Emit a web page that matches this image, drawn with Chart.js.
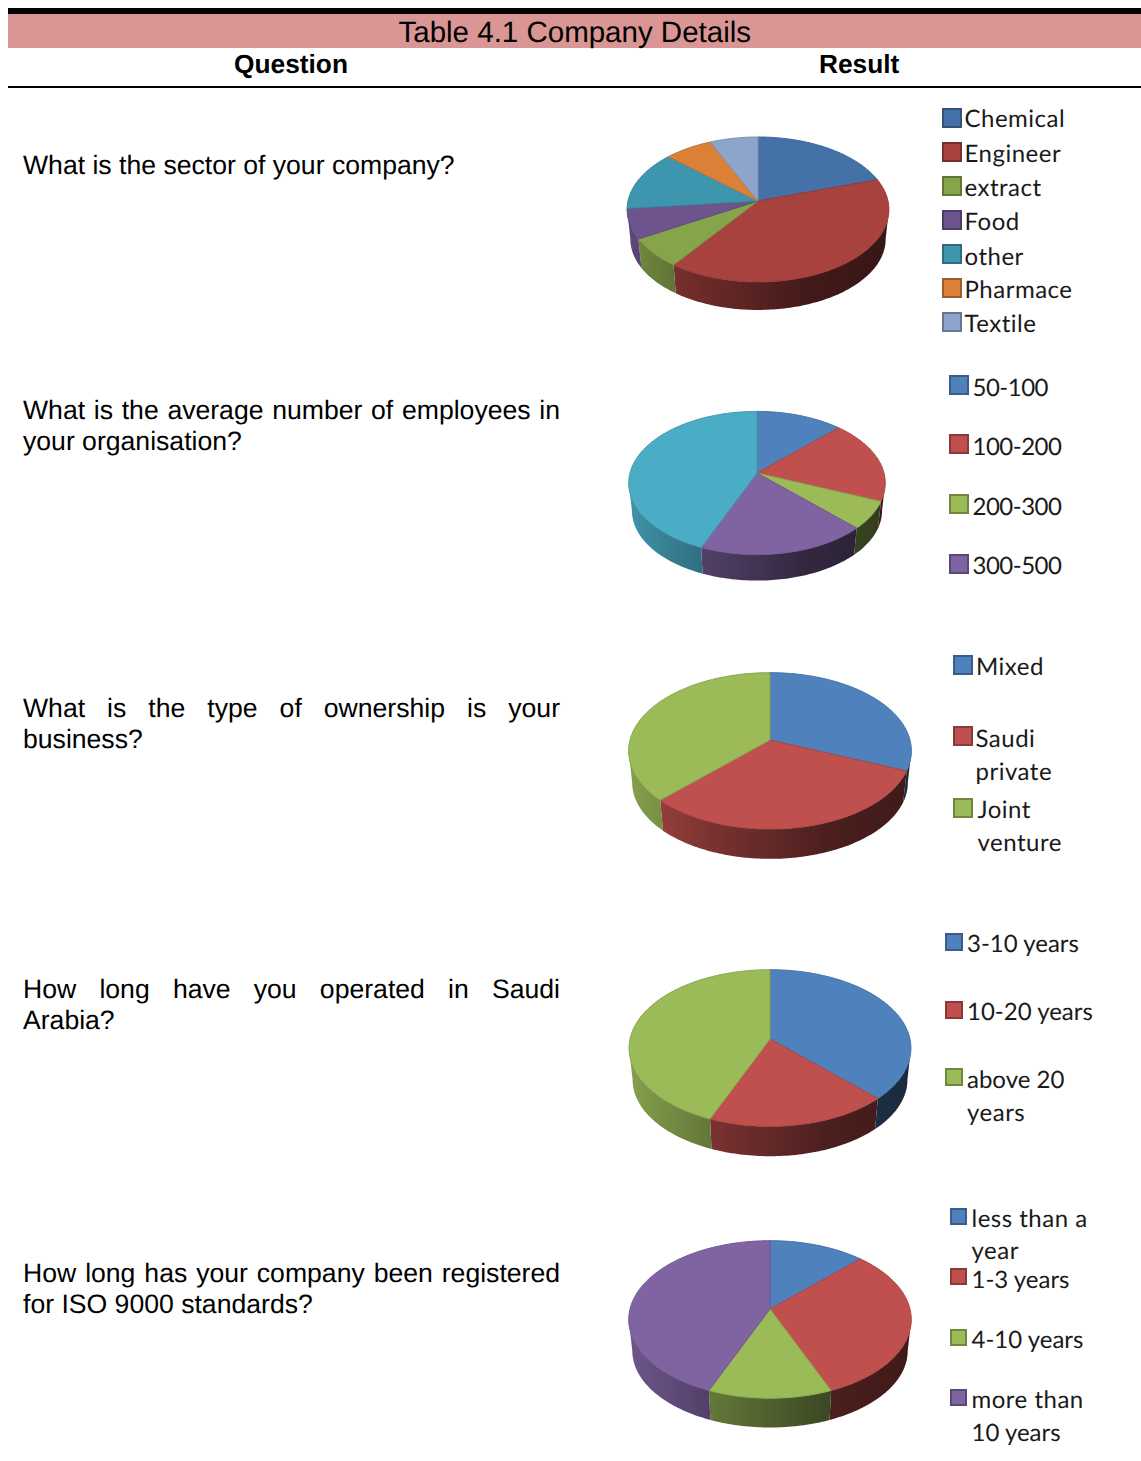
<!DOCTYPE html>
<html>
<head>
    <title>Table 4.1 Company Details</title>
    <script src="https://cdn.jsdelivr.net/npm/chart.js"></script>
    <style>
        html, body { margin: 0; padding: 0; background: #fff; }
        #page { position: relative; width: 1141px; height: 1461px; overflow: hidden; text-rendering: geometricPrecision; }
        #page canvas, .txt, .swatch, .bar { position: absolute; }
        .txt { white-space: nowrap; color: #000; }
        .q { font-family: "Liberation Sans", Arial, sans-serif; }
        .lg { font-family: Lato, sans-serif; color: #1a1a1a; }
        .swatch { box-sizing: border-box; border-style: solid; border-width: 2px; }
    </style>
</head>
<body>
<div id="page"></div>
<script>
    // answers per question
    const sectorLabels = ['Chemical', 'Engineer', 'extract', 'Food', 'other', 'Pharmace', 'Textile'];
    const sectorValues = [3, 6, 1, 1, 2, 1, 1];

    const employeeLabels = ['50-100', '100-200', '200-300', '300-500'];
    const employeeValues = [2, 3, 1, 3, 7];

    const ownershipLabels = ['Mixed', ['Saudi', 'private'], ['Joint', 'venture']];
    const ownershipValues = [5, 5, 6];

    const operatedLabels = ['3-10 years', '10-20 years', ['above 20', 'years']];
    const operatedValues = [6, 3, 7];

    const isoLabels = [['less than a', 'year'], '1-3 years', '4-10 years', ['more than', '10 years']];
    const isoValues = [2, 5, 2, 7];

    const sectorColors = ['#4472A8', '#A8423F', '#86A44A', '#6E548D', '#3D96AE', '#DA8137', '#8EA5CB'];
    const officeColors = ['#4F81BD', '#C0504D', '#9BBB59', '#8064A2', '#4BACC6'];

    const questions = [
        { lines: ['What is the sector of your company?'], baseline: 175 },
        { lines: ['What is the average number of employees in', 'your organisation?'], baseline: 420 },
        { lines: ['What is the type of ownership is your', 'business?'], baseline: 718 },
        { lines: ['How long have you operated in Saudi', 'Arabia?'], baseline: 999 },
        { lines: ['How long has your company been registered', 'for ISO 9000 standards?'], baseline: 1283 }
    ];

    // apex = centre of the pie on screen, a/b = radii, p = perspective, depth = wall height
    const pies = [
        { labels: sectorLabels, values: sectorValues, colors: sectorColors,
          geom: { apexX: 758, apexY: 201, a: 130, b: 71.5, p: -0.117, depth: 30 },
          legend: { size: 20, swatchX: [942, 942, 942, 942, 942, 942, 942], swatchY: [108, 142, 176, 210, 244, 278, 312],
                    textX: [964.5, 964.5, 964.5, 964.5, 964.5, 964.5, 964.5], baseY: [[128], [163], [197], [231], [266], [299], [333]] } },
        { labels: employeeLabels, values: employeeValues, colors: officeColors,
          geom: { apexX: 756.7, apexY: 473.3, a: 127, b: 70.2, p: -0.14, depth: 28 },
          legend: { size: 20, swatchX: [949, 949, 949, 949], swatchY: [375, 434, 494, 554],
                    textX: [972.5, 972.5, 972.5, 972.5], baseY: [[397], [456], [516], [575]] } },
        { labels: ownershipLabels, values: ownershipValues, colors: officeColors,
          geom: { apexX: 770, apexY: 740, a: 140, b: 76.7, p: -0.139, depth: 32 },
          legend: { size: 20, swatchX: [953, 953, 953], swatchY: [655, 726, 798],
                    textX: [976, 975.5, 977.5], baseY: [[676], [748, 781], [819, 852]] } },
        { labels: operatedLabels, values: operatedValues, colors: officeColors,
          geom: { apexX: 770, apexY: 1039.3, a: 140, b: 77.3, p: -0.1155, depth: 32 },
          legend: { size: 18, swatchX: [945, 945, 945], swatchY: [933, 1001, 1068],
                    textX: [967, 967, 967], baseY: [[953], [1021], [1089, 1122]] } },
        { labels: isoLabels, values: isoValues, colors: officeColors,
          geom: { apexX: 770, apexY: 1309, a: 140, b: 77.4, p: -0.133, depth: 31.5 },
          legend: { size: 17, swatchX: [950, 950, 950, 950], swatchY: [1208, 1268, 1329, 1389],
                    textX: [971.5, 971.5, 971.5, 971.5], baseY: [[1228, 1260], [1289], [1349], [1409, 1442]] } }
    ];

    const page = document.getElementById('page');

    // font ascent/descent, used to put text on a given baseline
    const METRICS = { q: [0.905, 0.212], lg: [0.987, 0.213] };

    function addText(text, x, baseline, size, cls, extra) {
        const el = document.createElement('div');
        const lineH = Math.round(size * 1.3);
        const m = METRICS[cls];
        el.className = 'txt ' + cls;
        el.textContent = text;
        el.style.left = x + 'px';
        el.style.top = (baseline - ((lineH - (m[0] + m[1]) * size) / 2 + m[0] * size)) + 'px';
        el.style.fontSize = size + 'px';
        el.style.lineHeight = lineH + 'px';
        Object.assign(el.style, extra || {});
        page.appendChild(el);
        return el;
    }

    function addBar(x, y, w, h, color) {
        const el = document.createElement('div');
        el.className = 'bar';
        el.style.cssText = 'left:' + x + 'px;top:' + y + 'px;width:' + w + 'px;height:' + h + 'px;background:' + color;
        page.appendChild(el);
    }

    function shade(hex, k) {
        const n = parseInt(hex.slice(1), 16);
        const c = [n >> 16, (n >> 8) & 255, n & 255].map(function(v) { return Math.round(v * k); });
        return 'rgb(' + c.join(',') + ')';
    }

    // Lato digits run wide and its letters a bit narrow
    function legendSpacing(line) {
        if (/^[0-9-]+$/.test(line)) return '-0.5px';
        if (/^[A-Za-z ]+$/.test(line)) return '0.5px';
        return '0';
    }

    // table head
    addBar(8, 8, 1133, 6, '#000');
    addBar(8, 14, 1133, 34, '#D99694');
    addBar(8, 86, 1133, 2, '#000');
    addText('Table 4.1 Company Details', 398.5, 43.4, 29.5, 'q');
    addText('Question', 234, 73, 26.3, 'q', { fontWeight: 'bold' });
    addText('Result', 819, 73, 26.3, 'q', { fontWeight: 'bold' });

    // question column, every line but the last one is justified
    questions.forEach(function(q) {
        q.lines.forEach(function(line, i) {
            const extra = {};
            if (i < q.lines.length - 1) {
                extra.width = '537px';
                extra.whiteSpace = 'normal';
                extra.textAlign = 'justify';
                extra.textAlignLast = 'justify';
            }
            addText(line, 23, q.baseline + i * 31, 26.6, 'q', extra);
        });
    });

    const WALL_TAPER = 0.975;
    const WALL_LIGHT = [[0, 0.85], [0.3, 0.63], [0.7, 0.39], [1, 0.33]];

    function rimPoint(theta, cx, cy, g, wall) {
        const k = wall ? WALL_TAPER : 1;
        const w = 1 + g.p * Math.sin(theta);
        return {
            x: cx + g.a * k * Math.cos(theta) / w,
            y: cy + g.b * k * Math.sin(theta) / w + (wall ? g.depth : 0)
        };
    }

    function traceRim(ctx, from, to, cx, cy, g, wall) {
        const steps = Math.max(2, Math.ceil(Math.abs(to - from) / 0.02));
        for (let i = 0; i <= steps; i++) {
            const t = from + (to - from) * i / steps;
            const pt = rimPoint(t, cx, cy, g, wall);
            ctx.lineTo(pt.x, pt.y);
        }
    }

    // draws the arcs that the pie controller laid out as a tilted disc with a front wall
    const tiltedPie = {
        id: 'tiltedPie',
        beforeDatasetsDraw(chart, args, g) {
            const ctx = chart.ctx;
            const arcs = chart.getDatasetMeta(0).data;
            const edge = Math.asin(-g.p);

            arcs.forEach(function(arc) {
                const from = Math.max(arc.startAngle, edge);
                const to = Math.min(arc.endAngle, Math.PI - edge);
                if (to <= from) return;
                const grad = ctx.createLinearGradient(arc.x - g.a, 0, arc.x + g.a, 0);
                WALL_LIGHT.forEach(function(s) { grad.addColorStop(s[0], shade(arc.options.backgroundColor, s[1])); });
                ctx.beginPath();
                traceRim(ctx, from, to, arc.x, arc.y, g, false);
                traceRim(ctx, to, from, arc.x, arc.y, g, true);
                ctx.closePath();
                ctx.fillStyle = grad;
                ctx.fill();
            });

            arcs.forEach(function(arc) {
                ctx.beginPath();
                ctx.moveTo(arc.x, arc.y);
                traceRim(ctx, arc.startAngle, arc.endAngle, arc.x, arc.y, g, false);
                ctx.closePath();
                ctx.fillStyle = arc.options.backgroundColor;
                ctx.fill();
                ctx.strokeStyle = shade(arc.options.backgroundColor, 0.88);
                ctx.lineWidth = 1;
                ctx.stroke();
            });
            return false;
        }
    };

    pies.forEach(function(pie) {
        const canvas = document.createElement('canvas');
        canvas.width = 300;
        canvas.height = 240;
        canvas.style.left = (pie.geom.apexX - 150) + 'px';
        canvas.style.top = (pie.geom.apexY - 120) + 'px';
        page.appendChild(canvas);

        new Chart(canvas.getContext('2d'), {
            type: 'pie',
            data: {
                labels: pie.labels,
                datasets: [{ data: pie.values, backgroundColor: pie.colors, borderWidth: 0 }]
            },
            options: {
                responsive: false,
                animation: false,
                plugins: {
                    legend: { display: false },
                    tooltip: { enabled: false },
                    tiltedPie: pie.geom
                }
            },
            plugins: [tiltedPie]
        });

        // legend next to the pie
        pie.labels.forEach(function(label, i) {
            const box = document.createElement('div');
            box.className = 'swatch';
            box.style.left = pie.legend.swatchX[i] + 'px';
            box.style.top = pie.legend.swatchY[i] + 'px';
            box.style.width = box.style.height = pie.legend.size + 'px';
            box.style.background = pie.colors[i];
            box.style.borderColor = shade(pie.colors[i], 0.72);
            page.appendChild(box);

            [].concat(label).forEach(function(line, j) {
                addText(line, pie.legend.textX[i], pie.legend.baseY[i][j], 24, 'lg', { letterSpacing: legendSpacing(line) });
            });
        });
    });
</script>
</body>
</html>
